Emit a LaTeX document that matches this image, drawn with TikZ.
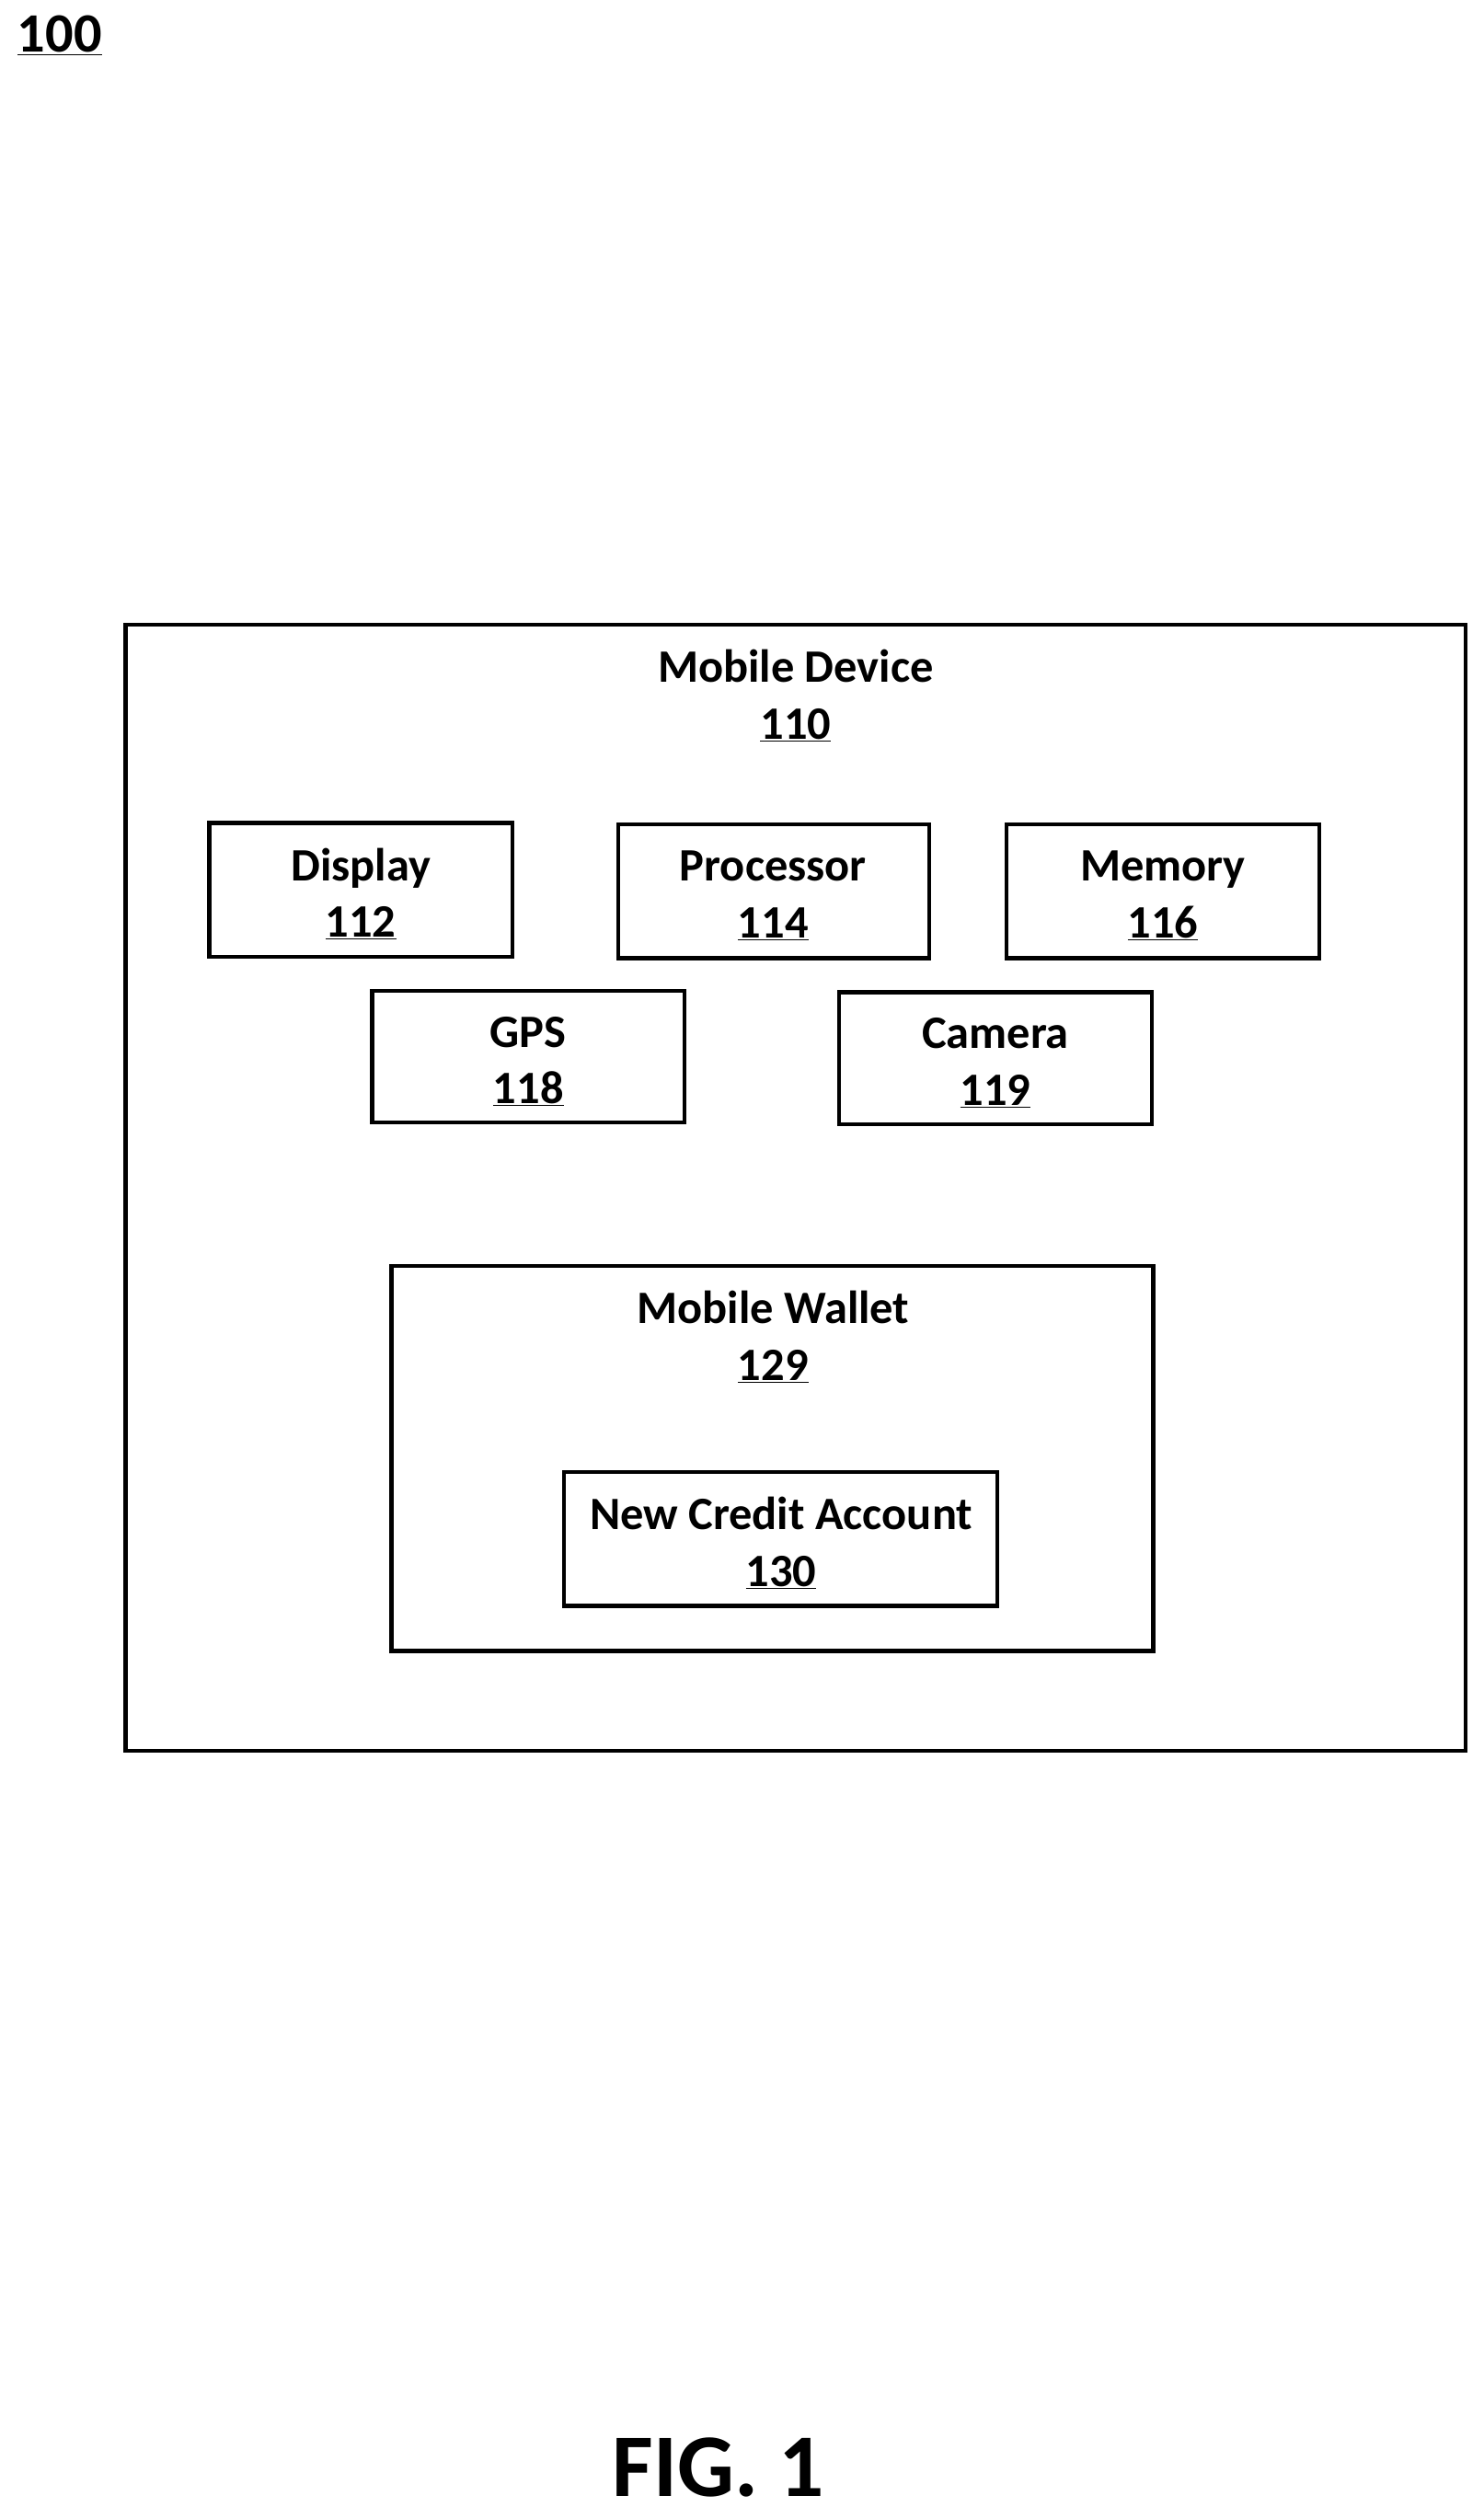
\documentclass[tikz,border=0pt]{standalone}
\usepackage{fontspec}
\setmainfont{Carlito}
\begin{document}
\begin{tikzpicture}[x=0.05cm,y=-0.05cm,
 box/.style={draw,line width=3.5pt},
 lab/.style={font=\fontsize{41}{50}\selectfont\bfseries,align=center,inner sep=0}]
\useasboundingbox (0,0) rectangle (921,1564);
\node[font=\fontsize{49}{55}\selectfont\bfseries,inner sep=0] (n100) at (37,22) {\underline{100}};
\draw[box] (78,388) rectangle (910,1087);
\node[lab] (md) at (494,432) {Mobile Device\\\underline{110}};
\draw[box] (130,511) rectangle (318,594);
\node[lab] (d) at (224,555) {Display\\\underline{112}};
\draw[box] (384,512) rectangle (577,595);
\node[lab] (p) at (480,556) {Processor\\\underline{114}};
\draw[box] (625,512) rectangle (819,595);
\node[lab] (m) at (722,556) {Memory\\\underline{116}};
\draw[box] (231,615) rectangle (425,697);
\node[lab] (g) at (328,659) {GPS\\\underline{118}};
\draw[box] (521,616) rectangle (715,698);
\node[lab] (c) at (618,660) {Camera\\\underline{119}};
\draw[box] (243,786) rectangle (716,1025);
\node[lab] (w) at (480,830) {Mobile Wallet\\\underline{129}};
\draw[box] (350,914) rectangle (619,997);
\node[lab] (nc) at (485,958) {New Credit Account\\\underline{130}};
\node[font=\fontsize{79}{85}\selectfont\bfseries,inner sep=0] (fig) at (446,1532) {FIG. 1};
\end{tikzpicture}
\end{document}
